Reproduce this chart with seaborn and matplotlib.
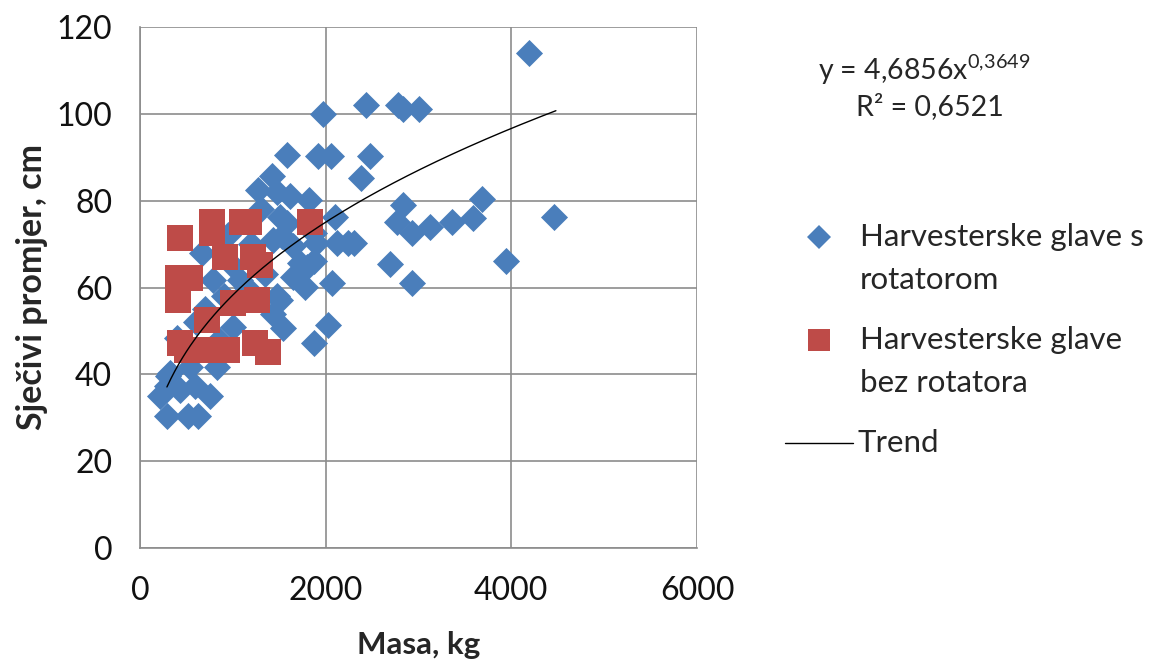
import matplotlib
matplotlib.use("Agg")
import matplotlib.pyplot as plt
import numpy as np
import pandas as pd
import seaborn as sns
from matplotlib.lines import Line2D

# Harvesterske glave s rotatorom (masa kg, sjecivi promjer cm)
rot_mass = [4190, 1975, 2430, 2780, 2830, 3005, 1920, 2060, 2480, 2380,
            1825, 3680, 2835, 2100, 4455, 2765, 2925, 3120, 3360, 3590,
            1895, 2120, 2245, 2300, 1870, 1795, 2695, 3945, 1780, 2070,
            2925, 2030, 1875, 1580, 1420, 1275, 1475, 1615, 1510, 1525,
            1650, 1870, 1475, 1545, 290, 215, 430, 595, 755, 290,
            520, 630, 395, 325, 665, 790, 1080, 1510, 1435, 1005,
            825, 540, 305, 1650, 1435, 1725, 1580, 900, 1200, 1000,
            700, 850, 1150, 600, 950, 1350, 1300]
rot_diam = [114, 100, 102, 102, 101, 101, 90.3, 90.3, 90.3, 85.3,
            80.2, 80.3, 79, 76.3, 76.2, 75.2, 72.5, 74, 75.2, 76,
            70.2, 70.2, 70.2, 70.2, 66, 64.8, 65.4, 66, 60.2, 61.1,
            61.1, 51.4, 47.2, 90.5, 85.6, 82.5, 82, 81, 76.3, 71.8,
            69.5, 72.5, 58, 50.6, 37.2, 34.9, 36.4, 37.2, 34.9, 30.3,
            30.3, 30.3, 48.3, 40.3, 67.9, 61.8, 61.8, 57.1, 54, 51,
            41.8, 41.8, 39.6, 62.5, 71, 65.7, 74.8, 58, 70, 65,
            55, 48, 60, 52, 72, 63, 78]

# Harvesterske glave bez rotatora
bez_mass = [772, 772, 1100, 1170, 1832, 431, 916, 1221, 1293, 413,
            539, 413, 718, 1006, 1257, 431, 503, 682, 934, 1239, 1383]
bez_diam = [75.2, 72.5, 75.2, 75.2, 75.2, 71.4, 67.1, 67.1, 65.2, 62.1,
            62.1, 57.1, 52.5, 56.4, 57.1, 47.2, 45.6, 45.6, 45.6, 47.2, 45.2]

# trend y = a * x^b (Excel power trendline)
trend_a = 4.6856
trend_b = 0.3649
trend_range = [290, 4480]

x_ticks = [0, 2000, 4000, 6000]
y_ticks = [0, 20, 40, 60, 80, 100, 120]

blue = "#4A7EBB"
red = "#BE4B48"
grid = "#8C8C8C"

sns.set_style("white")
plt.rcParams["font.family"] = ["Lato", "DejaVu Sans"]
plt.rcParams["mathtext.fontset"] = "custom"
plt.rcParams["mathtext.rm"] = "Lato"

df_rot = pd.DataFrame({"masa": rot_mass, "promjer": rot_diam})
df_bez = pd.DataFrame({"masa": bez_mass, "promjer": bez_diam})
tx = np.linspace(trend_range[0], trend_range[1], 200)
df_trend = pd.DataFrame({"masa": tx, "promjer": trend_a * tx ** trend_b})

fig = plt.figure(figsize=(11.55, 6.61), dpi=100)
ax = fig.add_axes([140 / 1155, 1 - 548 / 661, 557 / 1155, 521 / 661])

sns.scatterplot(data=df_rot, x="masa", y="promjer", marker="D", s=190,
                color=blue, linewidth=0, ax=ax, zorder=3)
sns.scatterplot(data=df_bez, x="masa", y="promjer", marker="s", s=370,
                color=red, linewidth=0, ax=ax, zorder=4)
sns.lineplot(data=df_trend, x="masa", y="promjer", color="black", lw=1,
             ax=ax, zorder=5, sort=False)

ax.set_xlim(0, 6000)
ax.set_ylim(0, 120)
ax.set_xticks(x_ticks)
ax.set_yticks(y_ticks)
ax.grid(True, color=grid, lw=1.2)
ax.set_axisbelow(True)
for side in ["top", "right"]:
    ax.spines[side].set_visible(False)
for side in ["left", "bottom"]:
    ax.spines[side].set_color(grid)
    ax.spines[side].set_linewidth(1.2)
ax.tick_params(axis="both", colors=grid, length=8, width=1.2, labelsize=23,
               labelcolor="#111111", pad=12)
ax.set_xlabel("Masa, kg", fontsize=22.5, fontweight="bold", labelpad=18)
ax.set_ylabel("Sječivi promjer, cm", fontsize=24.5, fontweight="bold", labelpad=6)

# equation + legend (drawn in figure pixels)
lg = fig.add_axes([0, 0, 1, 1], facecolor="none")
lg.set_xlim(0, 1155)
lg.set_ylim(661, 0)
lg.axis("off")
lg.text(818, 70, r"y = 4,6856x$^{\mathregular{0{,}3649}}$", fontsize=20.5,
        va="center", ha="left")
lg.text(930, 107, "R² = 0,6521", fontsize=20.5, va="center", ha="center")

lg.plot([819], [237], marker="D", ms=12, color=blue, mew=0, ls="none")
lg.text(860, 237, "Harvesterske glave s", fontsize=22.5, va="center")
lg.text(860, 280, "rotatorom", fontsize=22.5, va="center")
lg.plot([819], [340], marker="s", ms=16, color=red, mew=0, ls="none")
lg.text(860, 340, "Harvesterske glave", fontsize=22.5, va="center")
lg.text(860, 383, "bez rotatora", fontsize=22.5, va="center")
lg.add_line(Line2D([785, 853], [443, 443], color="black", lw=1))
lg.text(858, 443, "Trend", fontsize=22.5, va="center")

fig.savefig("out.png", dpi=100)
